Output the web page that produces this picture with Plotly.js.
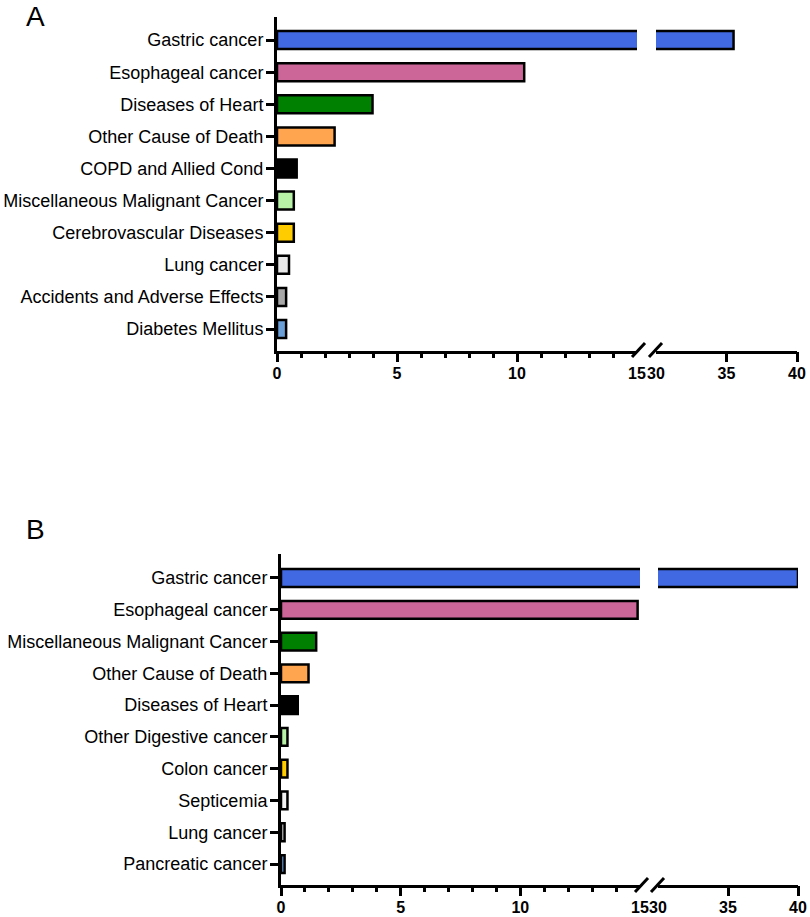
<!DOCTYPE html>
<html>
<head>
<meta charset="utf-8">
<script src="https://cdn.plot.ly/plotly-3.0.1.min.js"></script>
<style>
html,body{margin:0;padding:0;background:#fff;}
#chart{width:810px;height:917px;}
</style>
</head>
<body>
<div id="chart"></div>
<script>
// ---------------- DATA ----------------
const categoriesA = ["Gastric cancer","Esophageal cancer","Diseases of Heart","Other Cause of Death","COPD and Allied Cond","Miscellaneous Malignant Cancer","Cerebrovascular Diseases","Lung cancer","Accidents and Adverse Effects","Diabetes Mellitus"];
const valuesA = [35.5, 10.3, 3.98, 2.4, 0.82, 0.7, 0.7, 0.5, 0.38, 0.38];
const colorsA = ["#4169E1","#CC6699","#008000","#FFA54F","#000000","#B8F2A6","#FFCC00","#E8E8E8","#A8A8A8","#6A9FD8"];

const categoriesB = ["Gastric cancer","Esophageal cancer","Miscellaneous Malignant Cancer","Other Cause of Death","Diseases of Heart","Other Digestive cancer","Colon cancer","Septicemia","Lung cancer","Pancreatic cancer"];
const valuesB = [40, 14.9, 1.47, 1.15, 0.7, 0.27, 0.27, 0.27, 0.15, 0.15];
const colorsB = ["#4169E1","#CC6699","#008000","#FFA54F","#000000","#B8F2A6","#FFCC00","#F4F4F4","#D0D0D0","#6A9FD8"];

const seg1Labels = [0, 5, 10, 15];
const seg1Major = [0, 5, 10];
const seg1Minor = [1,2,3,4,6,7,8,9,11,12,13,14];
const seg2Labels = [30, 35, 40];
const seg2Major = [35, 40];
const seg1Range = [0, 15];
const seg2Range = [30, 40];

// ---------------- LAYOUT HELPERS ----------------
const W = 810, H = 917;
const px = v => v / W;
const py = v => 1 - v / H;
const FONT = "Liberation Sans, Arial, Helvetica, sans-serif";

function panel(n, cats, vals, cols, geo) {
  const xa = n === 0 ? ["x","x2","x3","x4","x5"] : ["x6","x7","x8","x9","x10"];
  const ya = n === 0 ? "y" : "y2";
  const barStyle = {color: cols, line:{color:"#000", width:2.5}};
  const traces = [
    {type:"bar", orientation:"h", x: vals, y: cats, xaxis: xa[0], yaxis: ya, width: 0.56, marker: barStyle},
    {type:"bar", orientation:"h", x: vals, y: cats, xaxis: xa[1], yaxis: ya, width: 0.56, marker: barStyle}
  ];
  // empty helper traces so the overlay tick axes are drawn
  [xa[2], xa[3], xa[4]].forEach(ax => traces.push(
    {type:"scatter", mode:"markers", x: [], y: [], xaxis: ax, yaxis: ya, hoverinfo:"skip"}));

  const name = s => "xaxis" + s.slice(1);
  const yname = ya === "y" ? "yaxis" : "yaxis2";
  const lay = {};
  const tickF = {family: FONT, size: 16, color: "#000", weight: "bold"};
  const common = {showgrid:false, zeroline:false, fixedrange:true, anchor: ya};
  // segment 1: line + labels
  lay[name(xa[0])] = Object.assign({}, common, {
    domain:[px(geo.x1[0]), px(geo.x1[1])], range: seg1Range,
    showline:true, linewidth:3, linecolor:"#000",
    tickmode:"array", tickvals: seg1Labels, ticktext: seg1Labels.map(String),
    ticks:"", tickfont: tickF, ticklabelstandoff: geo.stand
  });
  // segment 2: line + labels
  lay[name(xa[1])] = Object.assign({}, common, {
    domain:[px(geo.x2[0]), px(geo.x2[1])], range: seg2Range,
    showline:true, linewidth:3, linecolor:"#000",
    tickmode:"array", tickvals: seg2Labels, ticktext: seg2Labels.map(String),
    ticks:"", tickfont: tickF, ticklabelstandoff: geo.stand
  });
  // segment 1 major ticks
  lay[name(xa[2])] = Object.assign({}, common, {
    overlaying: xa[0], range: seg1Range, showline:false,
    tickmode:"array", tickvals: seg1Major, ticks:"outside", ticklen:10, tickwidth:3,
    tickcolor:"#000", showticklabels:false
  });
  // segment 2 major ticks
  lay[name(xa[3])] = Object.assign({}, common, {
    overlaying: xa[1], range: seg2Range, showline:false,
    tickmode:"array", tickvals: seg2Major, ticks:"outside", ticklen:10, tickwidth:3,
    tickcolor:"#000", showticklabels:false
  });
  // segment 1 minor ticks
  lay[name(xa[4])] = Object.assign({}, common, {
    overlaying: xa[0], range: seg1Range, showline:false,
    tickmode:"array", tickvals: seg1Minor, ticks:"outside", ticklen:6, tickwidth:3,
    tickcolor:"#000", showticklabels:false
  });
  lay[yname] = {
    domain:[py(geo.y[1]), py(geo.y[0])], anchor: xa[0],
    type:"category", categoryorder:"array", categoryarray: cats,
    range: geo.yr, showgrid:false, zeroline:false, fixedrange:true,
    showline:true, linewidth:3, linecolor:"#000",
    ticks:"outside", ticklen:8, tickwidth:3, tickcolor:"#000",
    tickfont:{family: FONT, size: 18, color:"#000"}, ticklabelstandoff: -1
  };
  const b = geo.brk;
  const shapes = [
    {type:"line", xref:"paper", yref:"paper", x0:px(b[0]), y0:py(b[2]+7), x1:px(b[0]+13), y1:py(b[2]-7), line:{color:"#000", width:3}},
    {type:"line", xref:"paper", yref:"paper", x0:px(b[1]), y0:py(b[2]+7), x1:px(b[1]+13), y1:py(b[2]-7), line:{color:"#000", width:3}}
  ];
  return {traces, lay, shapes};
}

const A = panel(0, categoriesA, valuesA, colorsA,
  {x1:[277,637], x2:[656,797], y:[17,351], yr:[9.685,-0.72], brk:[632,649,350], stand:6});
const B = panel(1, categoriesB, valuesB, colorsB,
  {x1:[281,640], x2:[658,798], y:[554,885], yr:[9.66,-0.755], brk:[635,651,885], stand:6});

const layout = Object.assign({
  width: W, height: H,
  margin:{l:0, r:0, t:0, b:0},
  paper_bgcolor:"#fff", plot_bgcolor:"rgba(0,0,0,0)",
  showlegend:false, barmode:"overlay", bargap:0,
  font:{family: FONT, color:"#000"},
  shapes: A.shapes.concat(B.shapes),
  annotations:[
    {text:"A", xref:"paper", yref:"paper", x:px(35), y:py(17), xanchor:"center", yanchor:"middle", showarrow:false, font:{family:FONT, size:28, color:"#000"}},
    {text:"B", xref:"paper", yref:"paper", x:px(35), y:py(529), xanchor:"center", yanchor:"middle", showarrow:false, font:{family:FONT, size:28, color:"#000"}}
  ]
}, A.lay, B.lay);

Plotly.newPlot("chart", A.traces.concat(B.traces), layout, {displayModeBar:false, staticPlot:true});
</script>
</body>
</html>
